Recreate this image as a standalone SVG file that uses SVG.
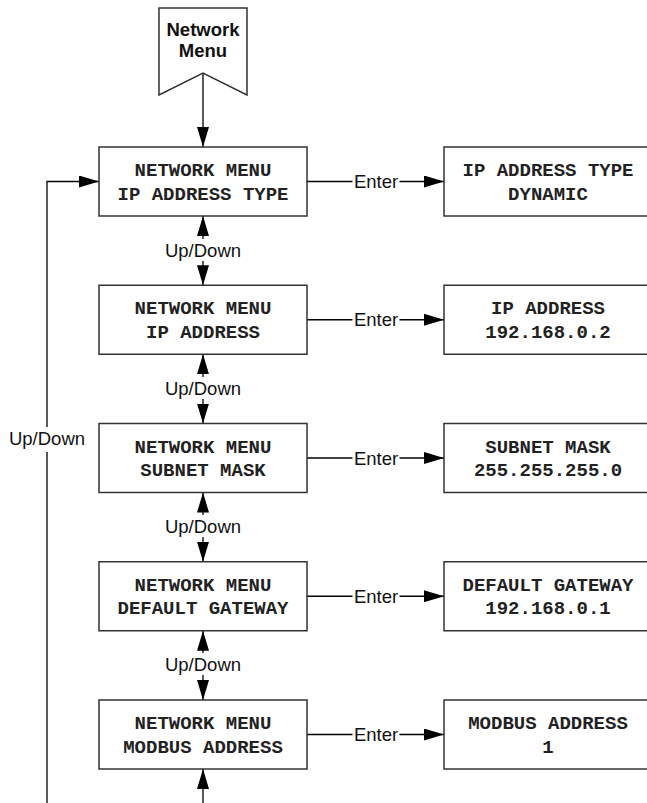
<svg xmlns="http://www.w3.org/2000/svg" width="647" height="803" viewBox="0 0 647 803">
<style>
.box{fill:#fff;stroke:#333;stroke-width:1.5}
.mono{font-family:"Liberation Mono","Courier New",monospace;font-weight:bold;font-size:19px;fill:#222;text-anchor:middle}
.lbl{font-family:"Liberation Sans",Arial,sans-serif;font-size:18.5px;fill:#111;text-anchor:middle}
.ln{fill:none;stroke:#000;stroke-width:1.3}
.bg{fill:#fff}
</style>
<defs>
<marker id="ah" viewBox="0 0 20 12" refX="20" refY="6" markerWidth="20" markerHeight="12" markerUnits="userSpaceOnUse" orient="auto-start-reverse">
<path d="M0,0 L20,6 L0,12 z" fill="#000"/>
</marker>
</defs>
<rect width="647" height="803" fill="#fff"/>
<g id="connectors">
<line class="ln" x1="203" y1="73" x2="203" y2="147" marker-end="url(#ah)"/>
<line class="ln" x1="203" y1="216" x2="203" y2="285.25" marker-start="url(#ah)" marker-end="url(#ah)"/>
<line class="ln" x1="203" y1="354.25" x2="203" y2="423.5" marker-start="url(#ah)" marker-end="url(#ah)"/>
<line class="ln" x1="203" y1="492.5" x2="203" y2="561.75" marker-start="url(#ah)" marker-end="url(#ah)"/>
<line class="ln" x1="203" y1="630.75" x2="203" y2="700" marker-start="url(#ah)" marker-end="url(#ah)"/>
<line class="ln" x1="203" y1="803" x2="203" y2="769" marker-end="url(#ah)"/>
<path class="ln" d="M47,803 V181.5 H99" marker-end="url(#ah)"/>
<line class="ln" x1="307" y1="181.5" x2="444" y2="181.5" marker-end="url(#ah)"/>
<line class="ln" x1="307" y1="319.75" x2="444" y2="319.75" marker-end="url(#ah)"/>
<line class="ln" x1="307" y1="458" x2="444" y2="458" marker-end="url(#ah)"/>
<line class="ln" x1="307" y1="596.25" x2="444" y2="596.25" marker-end="url(#ah)"/>
<line class="ln" x1="307" y1="734.5" x2="444" y2="734.5" marker-end="url(#ah)"/>
<rect class="bg" x="162" y="239" width="82" height="22"/>
<text class="lbl" x="203" y="257">Up/Down</text>
<rect class="bg" x="162" y="377" width="82" height="22"/>
<text class="lbl" x="203" y="395">Up/Down</text>
<rect class="bg" x="162" y="515" width="82" height="22"/>
<text class="lbl" x="203" y="533">Up/Down</text>
<rect class="bg" x="162" y="653" width="82" height="22"/>
<text class="lbl" x="203" y="671">Up/Down</text>
<rect class="bg" x="6" y="427" width="82" height="25"/>
<text class="lbl" x="47" y="445">Up/Down</text>
<rect class="bg" x="352.5" y="171" width="47" height="22"/>
<text class="lbl" x="376" y="188">Enter</text>
<rect class="bg" x="352.5" y="309" width="47" height="22"/>
<text class="lbl" x="376" y="326.25">Enter</text>
<rect class="bg" x="352.5" y="447" width="47" height="22"/>
<text class="lbl" x="376" y="464.5">Enter</text>
<rect class="bg" x="352.5" y="586" width="47" height="22"/>
<text class="lbl" x="376" y="602.75">Enter</text>
<rect class="bg" x="352.5" y="724" width="47" height="22"/>
<text class="lbl" x="376" y="741">Enter</text>
</g>
<g id="start">
<path d="M159,8 H247 V95 L203,73 L159,95 Z" fill="#fff" stroke="#333" stroke-width="1.5"/>
<text class="lbl" x="203" y="36" font-weight="bold">Network</text>
<text class="lbl" x="203" y="57" font-weight="bold">Menu</text>
</g>
<g id="n1"><rect class="box" x="99" y="147" width="208" height="69"/>
<text class="mono" x="203" y="176">NETWORK MENU</text><text class="mono" x="203" y="199.5">IP ADDRESS TYPE</text></g>
<g id="n2"><rect class="box" x="99" y="285.25" width="208" height="69"/>
<text class="mono" x="203" y="314.25">NETWORK MENU</text><text class="mono" x="203" y="337.75">IP ADDRESS</text></g>
<g id="n3"><rect class="box" x="99" y="423.5" width="208" height="69"/>
<text class="mono" x="203" y="452.5">NETWORK MENU</text><text class="mono" x="203" y="476">SUBNET MASK</text></g>
<g id="n4"><rect class="box" x="99" y="561.75" width="208" height="69"/>
<text class="mono" x="203" y="590.75">NETWORK MENU</text><text class="mono" x="203" y="614.25">DEFAULT GATEWAY</text></g>
<g id="n5"><rect class="box" x="99" y="700" width="208" height="69"/>
<text class="mono" x="203" y="729">NETWORK MENU</text><text class="mono" x="203" y="752.5">MODBUS ADDRESS</text></g>
<g id="v1"><rect class="box" x="444" y="147" width="208" height="69"/>
<text class="mono" x="548" y="176">IP ADDRESS TYPE</text><text class="mono" x="548" y="199.5">DYNAMIC</text></g>
<g id="v2"><rect class="box" x="444" y="285.25" width="208" height="69"/>
<text class="mono" x="548" y="314.25">IP ADDRESS</text><text class="mono" x="548" y="337.75">192.168.0.2</text></g>
<g id="v3"><rect class="box" x="444" y="423.5" width="208" height="69"/>
<text class="mono" x="548" y="452.5">SUBNET MASK</text><text class="mono" x="548" y="476">255.255.255.0</text></g>
<g id="v4"><rect class="box" x="444" y="561.75" width="208" height="69"/>
<text class="mono" x="548" y="590.75">DEFAULT GATEWAY</text><text class="mono" x="548" y="614.25">192.168.0.1</text></g>
<g id="v5"><rect class="box" x="444" y="700" width="208" height="69"/>
<text class="mono" x="548" y="729">MODBUS ADDRESS</text><text class="mono" x="548" y="752.5">1</text></g>
</svg>
